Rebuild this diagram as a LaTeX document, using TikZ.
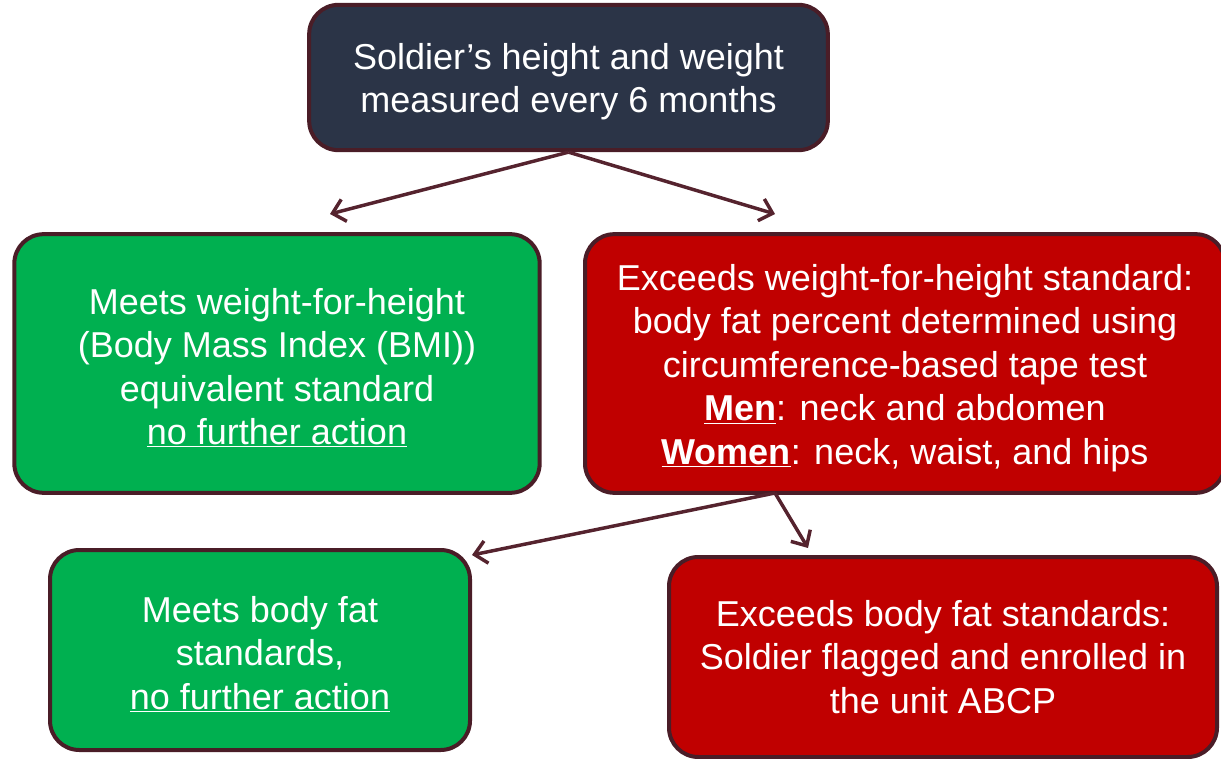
\documentclass[tikz,border=0pt]{standalone}
\usepackage{fontspec}
\setmainfont{Liberation Sans}
\usetikzlibrary{arrows.meta}
\definecolor{navy}{HTML}{2B3447}
\definecolor{okgreen}{HTML}{00B050}
\definecolor{badred}{HTML}{C00000}
\definecolor{edge}{HTML}{4A1D27}
\definecolor{link}{HTML}{55232E}
\newcommand{\lift}{\rule{0pt}{26pt}}
\tikzset{
  box/.style={draw=edge, line width=3pt, rounded corners=22pt, text=white,
    align=center, inner sep=0pt, font=\fontsize{27}{32.6}\selectfont},
  link/.style={draw=link, line width=2.6pt,
    -{Straight Barb[length=9pt, width=17pt, line width=2.6pt]}}
}
\begin{document}
\begin{tikzpicture}[x=0.75pt, y=-0.75pt]
\useasboundingbox (0,0) rectangle (1221,759);
\node[box, fill=navy, minimum width=389pt, minimum height=109pt] (top) at (568.5,77.5)
  {\lift Soldier’s height and weight\\measured every 6 months};
\node[box, fill=okgreen, minimum width=394pt, minimum height=194pt] (meets) at (277,363.5)
  {\lift Meets weight-for-height\\(Body Mass Index (BMI))\\equivalent standard\\\underline{no further action}};
\node[box, fill=badred, minimum width=480pt, minimum height=194pt] (exceeds) at (905,363.5)
  {\lift Exceeds weight-for-height standard:\\body fat percent determined using\\circumference-based tape test\\\underline{\textbf{Men}}: neck and abdomen\\\underline{\textbf{Women}}: neck, waist, and hips};
\node[box, fill=okgreen, minimum width=315pt, minimum height=150pt] (fatok) at (260,650)
  {\lift Meets body fat\\standards,\\\underline{no further action}};
\node[box, fill=badred, minimum width=411pt, minimum height=150pt] (abcp) at (943,657)
  {Exceeds body fat standards:\\Soldier flagged and enrolled in\\the unit ABCP};
\coordinate (fork) at (775,493);
\coordinate (toMeets) at (330,214);
\coordinate (toExceeds) at (775,214);
\coordinate (toFatok) at (472,555);
\coordinate (toAbcp) at (808,548);
\draw [link] (top.south) -- (toMeets); \draw [link] (top.south) -- (toExceeds);
\draw [link] (fork) -- (toFatok); \draw [link] (fork) -- (toAbcp);
\end{tikzpicture}
\end{document}
